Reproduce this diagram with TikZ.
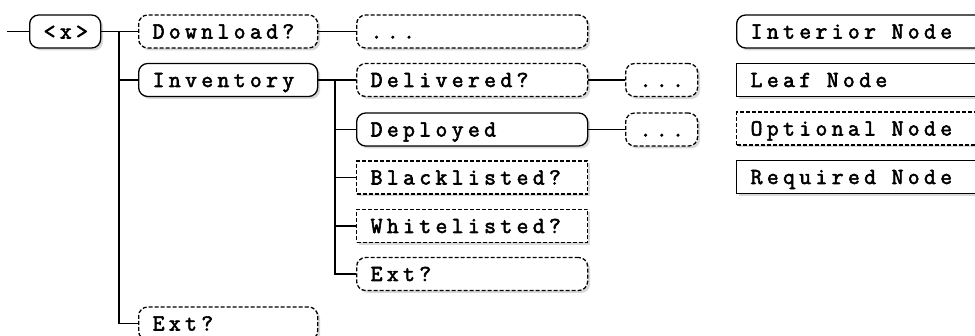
\documentclass[tikz,border=0pt]{standalone}
\usepackage{fontspec}
\newfontfamily\treefont[LetterSpace=19,FakeBold=2.5]{Latin Modern Mono}
\newcommand\treespace{\hspace{15.6pt}}
\usetikzlibrary{shadows}

\tikzset{
  treenode/.style={draw, line width=1.3pt, anchor=west, fill=white,
    minimum height=33pt, inner xsep=14pt, inner ysep=0pt, align=left,
    text height=14pt, text depth=0pt,
    font=\treefont\fontsize{23}{25}\selectfont,
    drop shadow={shadow xshift=2.5pt, shadow yshift=-2.5pt, fill=black!30}},
  interior/.style={rounded corners=9pt},
  optional/.style={dash pattern=on 4pt off 2pt},
  conn/.style={line width=1.7pt},
}

\begin{document}
\begin{tikzpicture}[x=1pt,y=-1pt]

    \path[use as bounding box] (0,0) rectangle (975,336);
    \clip (0,0) rectangle (975,336);

    % Root
    \node[treenode,interior,text width=43pt] (root) at (29,31.5) {<x>};

    % First level
    \node[treenode,interior,optional,text width=151pt] (download) at (138,31.5) {Download?};
    \node[treenode,interior,text width=151pt] (inventory) at (138,80) {Inventory};
    \node[treenode,interior,optional,text width=151pt] (ext) at (138,323.5) {Ext?};

    % Second level
    \node[treenode,interior,optional,text width=203pt] (dlmore) at (356,31.5) {...};
    \node[treenode,interior,optional,text width=203pt] (delivered) at (356,80) {Delivered?};
    \node[treenode,interior,text width=203pt] (deployed) at (356,129.5) {Deployed};
    \node[treenode,optional,text width=203pt] (black) at (356,177.5) {Blacklisted?};
    \node[treenode,optional,text width=203pt] (white) at (356,226) {Whitelisted?};
    \node[treenode,interior,optional,text width=203pt] (invext) at (356,274) {Ext?};

    % Third level
    \node[treenode,interior,optional,text width=44pt] (delmore) at (625,80) {...};
    \node[treenode,interior,optional,text width=44pt] (depmore) at (625,129.5) {...};

    % Legend
    \node[treenode,interior,text width=232pt] (leginterior) at (736,31.5) {Interior\treespace Node};
    \node[treenode,text width=232pt] (legleaf) at (736,80) {Leaf\treespace Node};
    \node[treenode,optional,text width=232pt] (legoptional) at (736,128.5) {Optional\treespace Node};
    \node[treenode,text width=232pt] (legrequired) at (736,177) {Required\treespace Node};

    % Connectors
    \coordinate (start) at (7,31.5);
    \coordinate (rootfork) at (119,31.5);
    \coordinate (invfork) at (335,80);
    \draw[conn] (start) -- (root.west);
    \draw[conn] (root.east) -- (download.west);
    \draw[conn] (rootfork) |- (ext.west);
    \draw[conn] (rootfork |- inventory.west) -- (inventory.west);
    \draw[conn] (download.east) -- (dlmore.west);
    \draw[conn] (inventory.east) -- (delivered.west);
    \draw[conn] (invfork) |- (invext.west);
    \foreach \n in {deployed,black,white}
        \draw[conn] (invfork |- \n.west) -- (\n.west);
    \draw[conn] (delivered.east) -- (delmore.west);
    \draw[conn] (deployed.east) -- (depmore.west);

\end{tikzpicture}
\end{document}
